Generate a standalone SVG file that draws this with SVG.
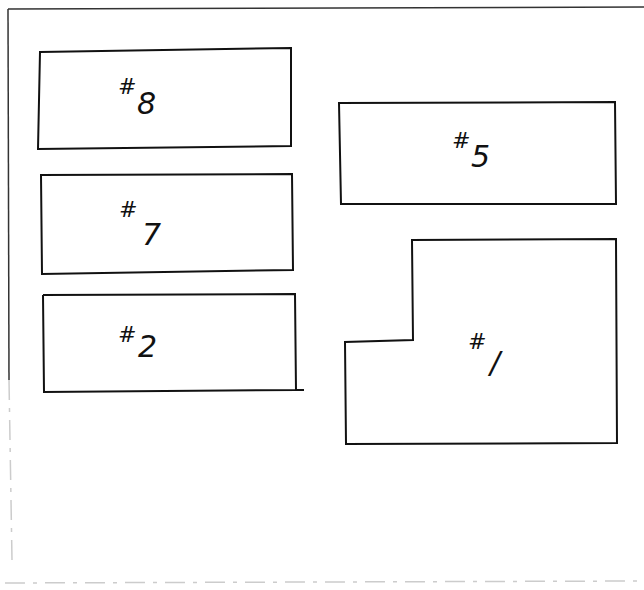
<svg xmlns="http://www.w3.org/2000/svg" width="644" height="590" viewBox="0 0 644 590">
<style>
.room{fill:none;stroke:#111;stroke-width:2;stroke-linejoin:miter}
.frame{fill:none;stroke:#333;stroke-width:1.5}
.faint{fill:none;stroke:#ccc;stroke-width:1.5;stroke-dasharray:20 8 4 8}
.hash{font-family:"DejaVu Sans",sans-serif;font-size:22px;fill:#111;font-style:italic;font-weight:300}
.num{font-family:"DejaVu Sans",sans-serif;font-size:30px;fill:#111;font-style:italic;font-weight:300}
</style>
<rect width="644" height="590" fill="#fff"/>
<g id="frame">
<path class="frame" d="M8,9 L644,7"/>
<path class="frame" d="M8,9 L9,380"/>
<path class="faint" d="M9,380 L12,560"/>
<path class="faint" d="M5,583 L644,581"/>
</g>
<g id="node-8">
<path class="room" d="M40,52 L291,48 L291,146 L38,149 Z"/>
<text x="118" y="94" class="hash">#</text><text x="137" y="114" class="num">8</text>
</g>
<g id="node-5">
<path class="room" d="M339,103 L615,102 L616,204 L341,204 Z"/>
<text x="452" y="148" class="hash">#</text><text x="471" y="167" class="num">5</text>
</g>
<g id="node-7">
<path class="room" d="M41,175 L292,174 L293,270 L42,274 Z"/>
<text x="119" y="217" class="hash">#</text><text x="142" y="245" class="num">7</text>
</g>
<g id="node-2">
<path class="room" d="M43,295 L295,294 L296,390 L304,390 M296,390 L44,392 L43,295"/>
<text x="118" y="342" class="hash">#</text><text x="138" y="357" class="num">2</text>
</g>
<g id="node-1">
<path class="room" d="M412,240 L616,239 L617,443 L346,444 L345,342 L413,340 Z"/>
<text x="468" y="349" class="hash">#</text><text x="490" y="373" class="num">/</text>
</g>
<g id="connectors"></g>
</svg>
